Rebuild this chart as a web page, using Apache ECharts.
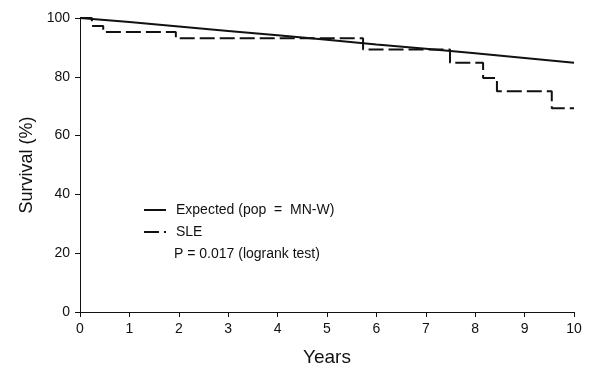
<!DOCTYPE html>
<html>
<head>
<meta charset="utf-8">
<script src="https://cdn.jsdelivr.net/npm/echarts@6/dist/echarts.min.js"></script>
<style>
  html, body { margin: 0; padding: 0; background: #fff; }
  #chart { width: 592px; height: 370px; }
</style>
</head>
<body>
<div id="chart"></div>
<script>
// expected survival for the matched population, read at each year
const expectedYears = [0, 1, 2, 3, 4, 5, 6, 7, 8, 9, 10];
const expectedSurvival = [100, 98.6, 97.1, 95.6, 94.1, 92.6, 91.0, 89.5, 88.0, 86.4, 84.8];

// observed Kaplan-Meier steps for SLE
const sleYears = [0, 0.24, 0.47, 1.94, 5.73, 7.49, 8.16, 8.44, 9.55, 10];
const sleSurvival = [100, 97.3, 95.2, 93.1, 89.3, 84.8, 79.6, 75.1, 69.3, 69.3];

const xTicks = [0, 1, 2, 3, 4, 5, 6, 7, 8, 9, 10];
const yTicks = [0, 20, 40, 60, 80, 100];

const font = "'Liberation Sans', Arial, Helvetica, sans-serif";
const ink = "#111";

const chart = echarts.init(document.getElementById("chart"));

const axisCommon = {
  axisLine: { show: true, lineStyle: { color: ink, width: 1 } },
  axisTick: { show: true, inside: false, length: 5, lineStyle: { color: ink, width: 1 } },
  splitLine: { show: false },
  axisLabel: { color: ink, fontFamily: font, fontSize: 14 },
};

chart.setOption({
  animation: false,
  backgroundColor: "#fff",
  grid: { left: 80, right: 18, top: 18, bottom: 58, containLabel: false, outerBoundsMode: "none" },
  xAxis: {
    ...axisCommon,
    type: "value",
    min: xTicks[0],
    max: xTicks[xTicks.length - 1],
    interval: 1,
    name: "Years",
    nameLocation: "middle",
    nameGap: 36,
    nameTextStyle: { color: ink, fontFamily: font, fontSize: 19 },
    axisLabel: { ...axisCommon.axisLabel, margin: 10 },
  },
  yAxis: {
    ...axisCommon,
    type: "value",
    min: yTicks[0],
    max: yTicks[yTicks.length - 1],
    interval: 20,
    name: "Survival (%)",
    nameLocation: "middle",
    nameGap: 39,
    nameTextStyle: { color: ink, fontFamily: font, fontSize: 18 },
    axisLabel: { ...axisCommon.axisLabel, margin: 10 },
  },
  legend: {
    orient: "vertical",
    left: 138,
    top: 198,
    itemWidth: 22,
    itemHeight: 14,
    itemGap: 8,
    itemStyle: { opacity: 0 },
    textStyle: { color: ink, fontFamily: font, fontSize: 14, padding: [0, 0, 0, 5] },
    data: ["Expected (pop  =  MN-W)", "SLE"],
  },
  graphic: [
    {
      type: "text",
      left: 174,
      top: 247,
      style: { text: "P = 0.017 (logrank test)", fill: ink, font: "14px " + font },
    },
  ],
  series: [
    {
      name: "Expected (pop  =  MN-W)",
      type: "line",
      data: expectedYears.map((x, i) => [x, expectedSurvival[i]]),
      symbol: "none",
      lineStyle: { color: ink, width: 2 },
      itemStyle: { color: ink },
    },
    {
      name: "SLE",
      type: "line",
      step: "end",
      data: sleYears.map((x, i) => [x, sleSurvival[i]]),
      symbol: "none",
      lineStyle: { color: ink, width: 2, type: [15, 5] },
      itemStyle: { color: ink },
    },
  ],
});
</script>
</body>
</html>
